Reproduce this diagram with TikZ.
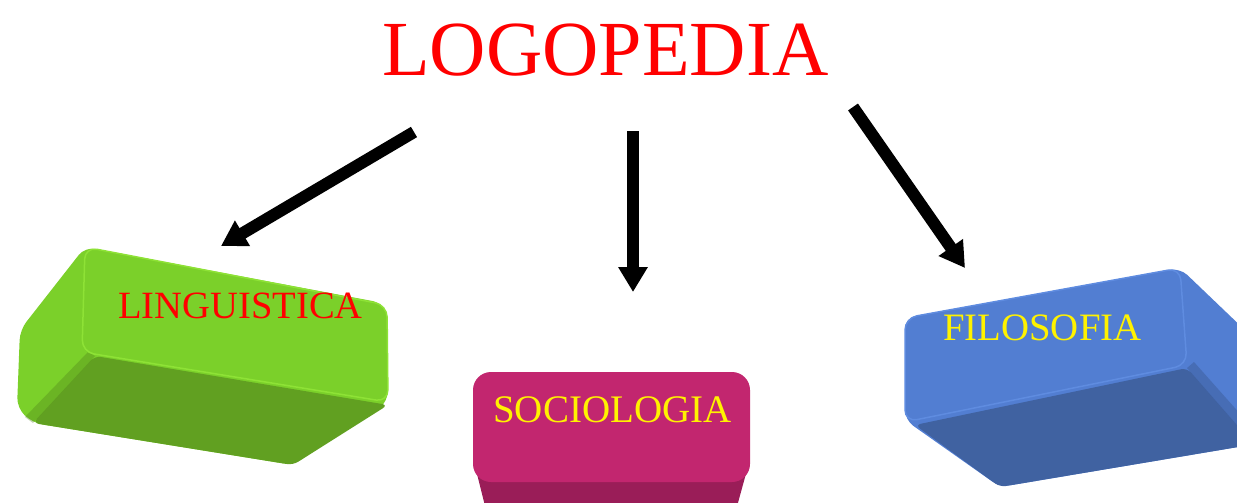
\documentclass[tikz,border=0pt]{standalone}
\usepackage{fontspec}
\setmainfont{Liberation Serif}
\usetikzlibrary{arrows.meta}
\definecolor{gtop}{HTML}{7BD02A}
\definecolor{gbot}{HTML}{61A021}
\definecolor{gedge}{HTML}{8EE236}
\definecolor{ptop}{HTML}{C2266F}
\definecolor{pbot}{HTML}{9A1D58}
\definecolor{btop}{HTML}{527ED2}
\definecolor{bbot}{HTML}{4062A1}
\definecolor{bedge}{HTML}{5F8CE0}
\begin{document}
\begin{tikzpicture}[x=1pt,y=-1pt,
  arr/.style={line width=12pt,-{Triangle[length=25pt,width=28pt]}},
  lbl/.style={anchor=base west,inner sep=0pt},
  face/.style={rounded corners=12pt}]
\useasboundingbox (0,0) rectangle (1237,503);
% ---------- green block
\fill[gtop,rounded corners=10pt] (85,247) -- (383,303) -- (388,402) -- (293,465) -- (33,423) -- (17,408) -- (20,330) -- cycle;
\fill[gbot,rounded corners=6pt] (95,356) -- (388,405) -- (293,465) -- (33,423) -- cycle;
\fill[gbot!80!black,opacity=0.35] (33,423) -- (95,356) -- (88,352) -- (25,417) -- cycle;
\filldraw[face,fill=gtop,draw=gedge,line width=1.5pt] (85,247) -- (387,305) -- (388,402) -- (82,352) -- cycle;
% ---------- pink block
\fill[pbot] (476,470) -- (747,470) -- (736,510) -- (486,510) -- cycle;
\fill[ptop,rounded corners=18pt] (473,372) rectangle (750,482);
% ---------- blue block
\fill[btop,rounded corners=10pt] (905,318) -- (1180,268) -- (1250,335) -- (1250,445) -- (1000,487) -- (905,420) -- cycle;
\fill[bbot,rounded corners=6pt] (915,425) -- (1187,368) -- (1250,440) -- (1250,445) -- (1000,487) -- cycle;
\fill[bbot!80!black,opacity=0.35] (1187,368) -- (1194,362) -- (1250,425) -- (1250,440) -- cycle;
\filldraw[face,fill=btop,draw=bedge,line width=1.5pt] (905,318) -- (1180,268) -- (1187,365) -- (905,422) -- cycle;
% ---------- texts
\node[lbl,font=\fontsize{78}{78}\selectfont,text=red] (logo) at (382,75) {LOGOPEDIA};
\node[lbl,font=\fontsize{38.6}{38.6}\selectfont,text=red] (ling) at (118,318) {LINGUISTICA};
\node[lbl,font=\fontsize{39}{39}\selectfont,text=yellow] (soc) at (493,422) {SOCIOLOGIA};
\node[lbl,font=\fontsize{38.8}{38.8}\selectfont,text=yellow] (fil) at (943,340) {FILOSOFIA};
% ---------- arrows
\coordinate (a1s) at (414,132);
\coordinate (a1e) at (221,246);
\coordinate (a2s) at (633,131);
\coordinate (a2e) at (633,292);
\coordinate (a3s) at (853,107);
\coordinate (a3e) at (965,268);
\draw[arr] (a1s) -- (a1e);
\draw[arr] (a2s) -- (a2e);
\draw[arr] (a3s) -- (a3e);
\end{tikzpicture}
\end{document}
